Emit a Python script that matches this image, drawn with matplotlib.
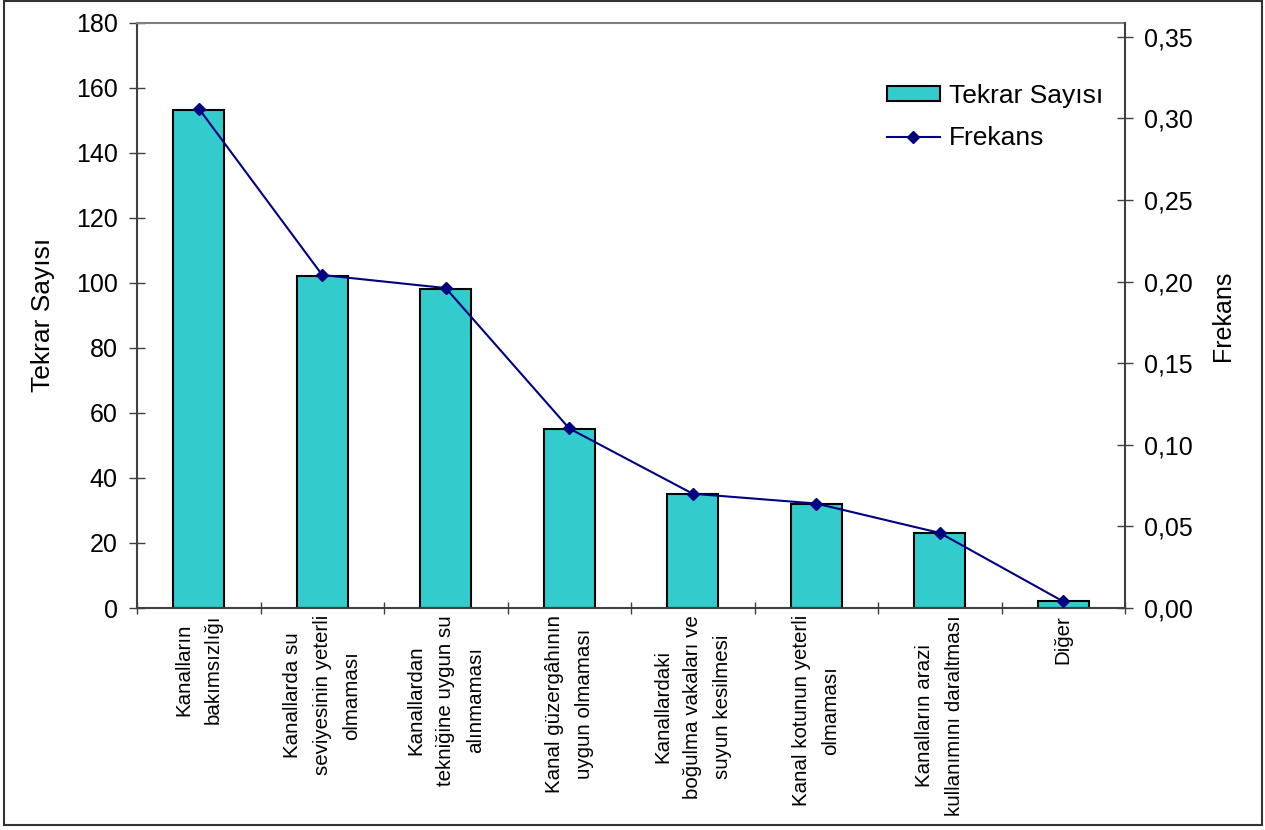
import matplotlib.pyplot as plt
from matplotlib.patches import Rectangle
from matplotlib.ticker import FixedLocator, FuncFormatter, MultipleLocator

plt.rcParams['font.family'] = ['Liberation Sans', 'DejaVu Sans']

categories = [
    "Kanalların\nbakımsızlığı",
    "Kanallarda su\nseviyesinin yeterli\nolmaması",
    "Kanallardan\ntekniğine uygun su\nalınmaması",
    "Kanal güzergâhının\nuygun olmaması",
    "Kanallardaki\nboğulma vakaları ve\nsuyun kesilmesi",
    "Kanal kotunun yeterli\nolmaması",
    "Kanalların arazi\nkullanımını daraltması",
    "Diğer",
]
counts = [153, 102, 98, 55, 35, 32, 23, 2]
freqs = [0.306, 0.204, 0.196, 0.110, 0.070, 0.064, 0.046, 0.004]

W, H = 1265, 830
AXIS = '#404040'

fig = plt.figure(figsize=(W / 100, H / 100), dpi=100)
ax = fig.add_axes([137 / W, (H - 608) / H, (1125 - 137) / W, (608 - 22.7) / H])

x = list(range(len(categories)))
bar_handle = ax.bar(x, counts, width=0.41, color='#33CCCC', edgecolor='black',
                    linewidth=1.5, label='Tekrar Sayısı')
ax.set_xlim(-0.5, len(categories) - 0.5)
ax.set_ylim(0, 180)
ax.yaxis.set_major_locator(MultipleLocator(20))

# category boundaries get the tick marks, centres carry the labels
ax.xaxis.set_major_locator(FixedLocator([i - 0.5 for i in range(len(categories) + 1)]))
ax.xaxis.set_major_formatter(FuncFormatter(lambda v, p: ''))
ax.xaxis.set_minor_locator(FixedLocator(x))
ax.set_xticklabels(categories, minor=True, rotation=90, ha='center', va='top',
                   multialignment='center', linespacing=1.7, fontsize=14.8)
ax.tick_params(axis='x', which='major', direction='inout', length=8, width=1, color=AXIS)
ax.tick_params(axis='x', which='minor', length=0, pad=5)
ax.tick_params(axis='y', direction='inout', length=12, width=1, color=AXIS,
               labelsize=18, pad=8)
ax.set_ylabel('Tekrar Sayısı', fontsize=19, labelpad=15)

for side in ['left', 'bottom']:
    ax.spines[side].set_color(AXIS)
    ax.spines[side].set_linewidth(1.5)
ax.spines['top'].set_color('#808080')
ax.spines['top'].set_linewidth(1.5)
ax.spines['right'].set_visible(False)

# frequency on the secondary axis
ax2 = ax.twinx()
line_handle, = ax2.plot(x, freqs, color='#000080', lw=1.5, marker='D',
                        markersize=6.5, label='Frekans')
ax2.set_ylim(0, 0.35 * 585.3 / 571.3)
ax2.yaxis.set_major_locator(FixedLocator([i * 0.05 for i in range(8)]))
ax2.yaxis.set_major_formatter(FuncFormatter(lambda v, p: f"{v:.2f}".replace('.', ',')))
ax2.tick_params(axis='y', direction='inout', length=12, width=1, color=AXIS,
                labelsize=18, pad=8)
ax2.set_ylabel('Frekans', fontsize=18, labelpad=13)
for side in ['left', 'top', 'bottom']:
    ax2.spines[side].set_visible(False)
ax2.spines['right'].set_color(AXIS)
ax2.spines['right'].set_linewidth(1.5)

fig.legend(handles=[bar_handle, line_handle], loc='upper left',
           bbox_to_anchor=(887 / W, 1 - 84 / H), bbox_transform=fig.transFigure,
           frameon=False, fontsize=19, handlelength=2.0, handleheight=0.5,
           handletextpad=0.35, labelspacing=0.7, borderpad=0, borderaxespad=0)

# border round the whole chart
fig.patches.append(Rectangle((4 / W, 5 / H), (1262 - 4) / W, (829 - 5) / H,
                             transform=fig.transFigure, fill=False,
                             edgecolor='#333333', linewidth=1.5))

fig.savefig('out.png', dpi=100)
